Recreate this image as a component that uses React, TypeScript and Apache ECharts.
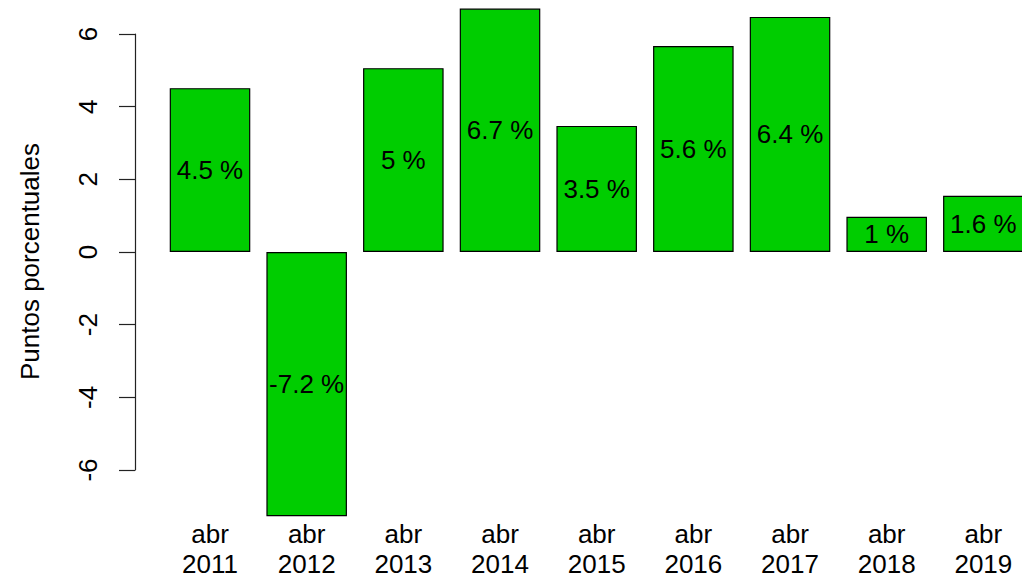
import React, { useEffect, useRef } from "react";
import * as echarts from "echarts";

const categories = ["abr\n2011", "abr\n2012", "abr\n2013", "abr\n2014", "abr\n2015", "abr\n2016", "abr\n2017", "abr\n2018", "abr\n2019"];
const values = [4.51, -7.27, 5.06, 6.7, 3.47, 5.67, 6.47, 0.97, 1.55];
const barLabels = ["4.5 %", "-7.2 %", "5 %", "6.7 %", "3.5 %", "5.6 %", "6.4 %", "1 %", "1.6 %"];
const yTicks = [-6, -4, -2, 0, 2, 4, 6];
const yTitle = "Puntos porcentuales";

const FONT = "'Liberation Sans', Arial, sans-serif";

export default function App() {
  const ref = useRef<HTMLDivElement>(null);
  useEffect(() => {
    if (!ref.current) return;
    const chart = echarts.init(ref.current, undefined, { renderer: "svg" });
    const H = 579;
    const W = 1050;
    const yTop6 = 34; // pixel of +6
    const yBot6 = 470; // pixel of -6
    const k = (yBot6 - yTop6) / 12;
    const barMax = 6 + yTop6 / k;
    const barMin = -7.35;
    const g0BottomY = yBot6 + (-6 - barMin) * k;
    const tickMin = yTicks[0];
    const tickMax = yTicks[yTicks.length - 1];
    const band = 96.67;
    const g0Left = 161.67;
    chart.setOption({
      animation: false,
      backgroundColor: "#ffffff",
      grid: [
        { left: g0Left, width: band * 9, top: 0, bottom: H - g0BottomY, containLabel: false },
        { left: 135, width: 10, top: yTop6, bottom: H - yBot6, containLabel: false },
      ],
      xAxis: [
        {
          type: "category",
          gridIndex: 0,
          data: categories,
          axisLine: { show: false },
          axisTick: { show: false },
          axisLabel: {
            show: true,
            interval: 0,
            margin: 519 - g0BottomY,
            fontSize: 26,
            lineHeight: 30,
            color: "#000",
            fontFamily: FONT,
          },
        },
        { type: "value", gridIndex: 1, min: 0, max: 1, show: false },
      ],
      yAxis: [
        { type: "value", gridIndex: 0, min: barMin, max: barMax, show: false, splitLine: { show: false } },
        {
          type: "value",
          gridIndex: 1,
          min: tickMin,
          max: tickMax,
          interval: 2,
          splitLine: { show: false },
          axisLine: { show: true, lineStyle: { color: "#222", width: 1.2 } },
          axisTick: { show: true, length: 16, lineStyle: { color: "#222", width: 1.2 } },
          axisLabel: {
            rotate: 90,
            margin: 34,
            fontSize: 26,
            color: "#000",
            fontFamily: FONT,
          },
        },
      ],
      graphic: [
        {
          type: "text",
          x: 30,
          y: 261.5,
          rotation: Math.PI / 2,
          style: {
            text: yTitle,
            fontSize: 26,
            fontFamily: FONT,
            fill: "#000",
            align: "center",
            verticalAlign: "middle",
          },
        },
      ],
      series: [
        {
          type: "bar",
          xAxisIndex: 0,
          yAxisIndex: 0,
          data: values,
          barCategoryGap: "16.67%",
          itemStyle: { color: "#00CD00", borderColor: "#000", borderWidth: 1.2 },
          label: {
            show: true,
            position: "inside",
            fontSize: 26,
            color: "#000",
            fontFamily: FONT,
            formatter: (p: any) => barLabels[p.dataIndex],
          },
        },
      ],
    });
    return () => chart.dispose();
  }, []);
  return (
    <div style={{ position: "absolute", left: 0, top: 0, width: 1022, height: 579, overflow: "hidden", background: "#fff" }}>
      <div ref={ref} style={{ width: 1050, height: 579 }} />
    </div>
  );
}
